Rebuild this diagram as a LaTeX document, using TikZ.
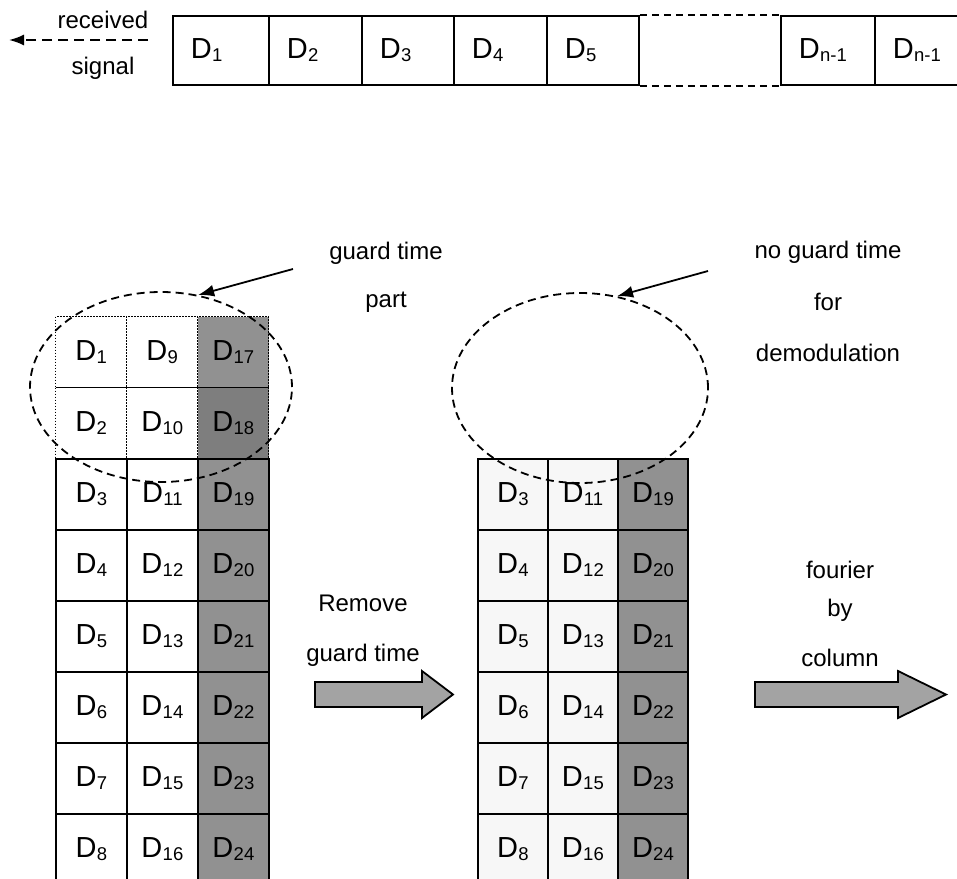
\documentclass[tikz,border=0pt]{standalone}
\usepackage{fontspec}
\setmainfont{Liberation Sans}
\usetikzlibrary{arrows.meta,shapes.geometric}
\definecolor{shade}{HTML}{919191}
\definecolor{shadedk}{HTML}{7E7E7E}
\definecolor{lightcell}{HTML}{F7F7F7}
\definecolor{arrowgray}{HTML}{A3A3A3}
\newcommand\Dd[1]{D\kern0.3pt\raisebox{-3pt}{\fontsize{18.5}{18.5}\selectfont #1}}
\begin{document}
\begin{tikzpicture}[x=1pt,y=-1pt,
  cell/.style={draw, line width=1.8pt, minimum width=71pt, minimum height=71pt,
    anchor=north west, inner sep=0pt, font=\fontsize{29}{31}\selectfont},
  dotcell/.style={line width=1.4pt, dash pattern=on 1.5pt off 1.5pt},
  stripcell/.style={draw, line width=1.8pt, minimum height=69pt, anchor=north west,
    inner xsep=18pt, inner ysep=0pt, align=left, font=\fontsize{29}{31}\selectfont},
  lbl/.style={font=\fontsize{24}{28}\selectfont, inner sep=0pt},
  guard/.style={draw, ellipse, line width=1.8pt, dash pattern=on 8pt off 5pt, inner sep=0pt},
  pointer/.style={line width=1.8pt, -{Latex[length=16pt,width=12pt]}},
  blockarrow/.style={draw, line width=1.8pt, fill=arrowgray, line join=miter}
]
\useasboundingbox (0,0) rectangle (957,878);
\clip (0,0) rectangle (957,878);
\fill[white] (0,0) rectangle (957,878);

% ---- top strip ----
\node[stripcell, text width=60pt] (s1) at (172,15) {\Dd{1}};
\node[stripcell, text width=57pt] (s2) at (268,15) {\Dd{2}};
\node[stripcell, text width=56pt] (s3) at (361,15) {\Dd{3}};
\node[stripcell, text width=57pt] (s4) at (453,15) {\Dd{4}};
\node[stripcell, text width=56pt] (s5) at (546,15) {\Dd{5}};
\node[stripcell, text width=58pt] (s6) at (780,15) {\Dd{n-1}};
\node[stripcell, text width=58pt] (s7) at (874,15) {\Dd{n-1}};
\draw[line width=1.8pt, dash pattern=on 7pt off 5pt] (s5.north east) -- (s6.north west);
\draw[line width=1.8pt, dash pattern=on 7pt off 5pt] (s5.south east) -- (s6.south west);

\coordinate (rsA) at (148,40);
\coordinate (rsB) at (9,40);
\draw[line width=1.8pt, dash pattern=on 10pt off 6pt, -{Latex[length=15pt,width=11pt]}] (rsA) -- (rsB);
\node[lbl] (rec) at (103,20) {received};
\node[lbl] (sig) at (103,68) {signal};

% ---- left grid ----
\foreach \r in {0,...,7}{
  \foreach \c in {0,1,2}{
    \pgfmathtruncatemacro\n{\c*8+\r+1}
    \pgfmathsetmacro\xx{55+71*\c}
    \pgfmathsetmacro\yy{316+71*\r}
    \ifnum\c=2 \def\fc{shade}\else\def\fc{white}\fi
    \ifnum\r=1 \ifnum\c=2 \def\fc{shadedk}\fi\fi
    \ifnum\r<2
      \node[cell,dotcell,fill=\fc] (L\r\c) at (\xx,\yy) {\Dd{\n}};
    \else
      \node[cell,fill=\fc] (L\r\c) at (\xx,\yy) {\Dd{\n}};
    \fi
  }
}

% ---- right grid ----
\foreach \r in {2,...,7}{
  \foreach \c in {0,1,2}{
    \pgfmathtruncatemacro\n{\c*8+\r+1}
    \pgfmathsetmacro\xx{477+70*\c}
    \pgfmathsetmacro\yy{316+71*\r}
    \ifnum\c=2 \def\fc{shade}\else\def\fc{lightcell}\fi
    \node[cell,minimum width=70pt,fill=\fc] (R\r\c) at (\xx,\yy) {\Dd{\n}};
  }
}

% ---- ellipses and pointers ----
\node[guard, minimum width=262pt, minimum height=190pt] (gl) at (161,387) {};
\node[guard, minimum width=256pt, minimum height=190pt] (gr) at (580,388) {};
\coordinate (pl) at (293,269);
\coordinate (pr) at (708,271);
\draw[pointer] (pl) -- (gl.68);
\draw[pointer] (pr) -- (gr.68);

\node[lbl] (gt1) at (386,253) {guard time};
\node[lbl] (gt2) at (386,302) {part};
\node[lbl] (ng1) at (828,252) {no guard time};
\node[lbl] (ng2) at (828,302) {for};
\node[lbl] (ng3) at (828,353) {demodulation};

% ---- block arrows ----
\node[lbl] (rm1) at (363,603) {Remove};
\node[lbl] (rm2) at (363,655) {guard time};
\draw[blockarrow] (315,682) -- (422,682) -- (422,671) -- (453,694.5) -- (422,718) -- (422,707) -- (315,707) -- cycle;

\node[lbl] (fo1) at (840,570) {fourier};
\node[lbl] (fo2) at (840,610) {by};
\node[lbl] (fo3) at (840,658) {column};
\draw[blockarrow] (755,682) -- (898,682) -- (898,671) -- (946,694.5) -- (898,718) -- (898,707) -- (755,707) -- cycle;
\end{tikzpicture}
\end{document}
